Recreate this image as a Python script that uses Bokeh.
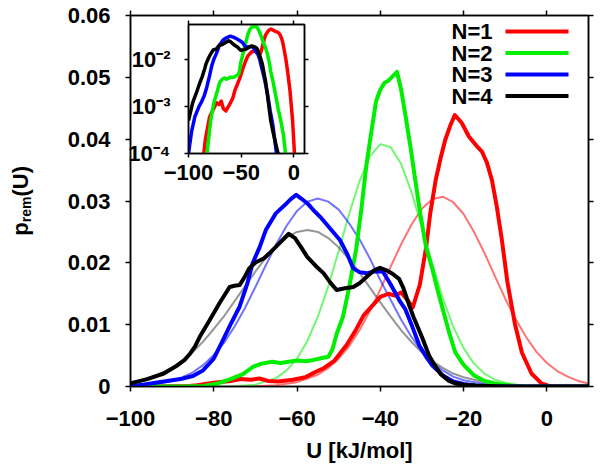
from bokeh.plotting import figure
from bokeh.models import LinearAxis, FixedTicker, Range1d, Label, Arrow, ColumnDataSource, Div
from bokeh.layouts import column
from bokeh.embed import file_html
from bokeh.resources import INLINE

# ---------------- data ----------------
x_ticks = [-100, -80, -60, -40, -20, 0]
y_ticks = [0, 0.01, 0.02, 0.03, 0.04, 0.05, 0.06]
y_tick_labels = ["0", "0.01", "0.02", "0.03", "0.04", "0.05", "0.06"]
inset_x_ticks = [-100, -50, 0]
inset_y_ticks = [1e-4, 1e-3, 1e-2]
inset_y_tick_labels = ["10\u207b\u2074", "10\u207b\u00b3", "10\u207b\u00b2"]

series_names = ["N=1", "N=2", "N=3", "N=4"]

# histograms (thick lines)
n1_x = [-100, -95, -90, -86, -84, -80, -76, -73.5, -71, -69, -67, -64.5, -61, -58, -56, -53.5, -51, -48, -46, -44,
        -42, -40, -38, -36.5, -35, -33.5, -32.2, -30.5, -29, -28, -26.7, -25.5, -24.4, -23.2, -22.1, -20.5, -18.7,
        -17, -15.6, -14.4, -13.2, -12, -10.8, -9.5, -7.7, -6, -3.7, -1.3, 0.5, 2, 5, 10]
n1_y = [0.00001, 0.00002, 0.00004, 0.00008, 0.0002, 0.0006, 0.0009, 0.0012, 0.0011, 0.0013, 0.0009, 0.0008, 0.0011,
        0.0015, 0.0022, 0.0030, 0.0042, 0.0068, 0.0090, 0.0115, 0.0130, 0.0145, 0.0150, 0.0147, 0.0152, 0.0140,
        0.0128, 0.0165, 0.0225, 0.0280, 0.0334, 0.0370, 0.0399, 0.0422, 0.0439, 0.0427, 0.0404, 0.0390, 0.0380,
        0.0362, 0.0334, 0.0290, 0.0237, 0.0170, 0.0102, 0.0055, 0.0021, 0.0005, 0.0001, 0.00003, 0.00001, 0.000005]

n2_x = [-100, -92, -86, -82.5, -79, -76, -73, -70.5, -68.5, -66, -64, -62, -60, -58, -56, -54, -52.5, -51.5, -50.5,
        -49, -47.5, -45.8, -44.5, -43.4, -42.2, -41, -40, -39, -38, -37, -36, -35, -33.9, -32.7, -31.5, -30.3, -29,
        -27.5, -26.2, -25, -23.5, -22, -20, -17.5, -15, -12.5, -10, -8, -6, -3, 0, 5, 10]
n2_y = [0.000005, 0.00001, 0.00003, 0.0001, 0.0005, 0.0012, 0.0020, 0.0032, 0.0037, 0.0040, 0.0038, 0.0040, 0.0042,
        0.0041, 0.0043, 0.0046, 0.0048, 0.0060, 0.0085, 0.0112, 0.0160, 0.0222, 0.0290, 0.0355, 0.0410, 0.0462,
        0.0480, 0.0491, 0.0495, 0.0502, 0.0509, 0.0480, 0.0436, 0.0385, 0.0329, 0.0275, 0.0225, 0.0190, 0.0155,
        0.0125, 0.0088, 0.0055, 0.0035, 0.0018, 0.0009, 0.0005, 0.00025, 0.0001, 0.00004, 0.00002, 0.00001,
        0.000005, 0.000005]

n3_x = [-100, -97, -94, -90, -88, -85, -82.6, -80, -77.8, -76, -73.8, -72, -70.7, -69, -67.5, -65.1, -63, -61.5,
        -60.2, -59, -57.5, -56, -54.4, -52, -49.7, -48, -46.5, -45, -43.3, -41.5, -39.4, -37.5, -35.4, -34, -32.5,
        -30.6, -29, -27.5, -25, -22.5, -20, -17, -15, -12, -8, 0, 10]
n3_y = [0.0001, 0.0003, 0.0006, 0.0010, 0.0012, 0.0017, 0.0026, 0.0045, 0.0075, 0.0100, 0.0129, 0.0165, 0.0199,
        0.0225, 0.0253, 0.0280, 0.0293, 0.0303, 0.0310, 0.0304, 0.0296, 0.0285, 0.0274, 0.0255, 0.0237, 0.0215,
        0.0191, 0.0185, 0.0183, 0.0186, 0.0186, 0.0165, 0.0139, 0.0125, 0.0100, 0.0066, 0.0048, 0.0034, 0.0018,
        0.0008, 0.0004, 0.00012, 0.00005, 0.00002, 0.00001, 0.000005, 0.000005]

n4_x = [-100, -96, -92, -89, -87, -85.7, -84.5, -83.4, -81, -78.6, -76.2, -75, -73.8, -72.5, -71.5, -69.9, -68,
        -66.7, -64.5, -62, -60.5, -59, -57.6, -55.5, -53.6, -52, -50.5, -48.5, -46.5, -45, -43.3, -41.5, -40.1,
        -38.5, -37, -35.5, -34.5, -33, -32, -30, -28.3, -27, -25.5, -23.5, -22, -20, -17, -14, -12, -8, 0, 10]
n4_y = [0.0005, 0.0012, 0.0021, 0.0033, 0.0043, 0.0053, 0.0065, 0.0080, 0.0107, 0.0135, 0.0161, 0.0163, 0.0164,
        0.0178, 0.0191, 0.0201, 0.0207, 0.0215, 0.0230, 0.0247, 0.0240, 0.0225, 0.0210, 0.0195, 0.0183, 0.0168,
        0.0156, 0.0159, 0.0161, 0.0167, 0.0177, 0.0188, 0.0192, 0.0188, 0.0182, 0.0174, 0.0160, 0.0130, 0.0112,
        0.0080, 0.0050, 0.0035, 0.0020, 0.0009, 0.0005, 0.0003, 0.00015, 0.00008, 0.00004, 0.00001, 0.000005,
        0.000005]

# fitted curves (thin lines)
f1_x = [-75, -70, -65, -60, -55, -52.5, -50, -47.5, -45, -42.5, -40, -37.5, -35, -32.5, -30, -27.5, -25, -22.5,
        -20, -17.5, -15, -12.5, -10, -7.5, -5, -2.5, 0, 2.5, 5, 7.5, 10]
f1_y = [0.00001, 0.00005, 0.0002, 0.0007, 0.0019, 0.0030, 0.0045, 0.0065, 0.0091, 0.0122, 0.0157, 0.0194, 0.0230,
        0.0262, 0.0288, 0.0303, 0.0307, 0.0298, 0.0279, 0.0250, 0.0216, 0.0179, 0.0142, 0.0109, 0.0080, 0.0056,
        0.0038, 0.0025, 0.0016, 0.0009, 0.0005]

f2_x = [-80, -75, -70, -65, -62.5, -60, -57.5, -55, -52.5, -50, -47.5, -45, -42.5, -40, -37.5, -35, -32.5, -30,
        -27.5, -25, -22.5, -20, -17.5, -15, -12.5, -10, -5, 0, 5, 10]
f2_y = [0.00001, 0.00006, 0.0003, 0.0014, 0.0026, 0.0045, 0.0074, 0.0113, 0.0162, 0.0219, 0.0279, 0.0332, 0.0372,
        0.0392, 0.0387, 0.0360, 0.0314, 0.0257, 0.0198, 0.0143, 0.0097, 0.0062, 0.0037, 0.0021, 0.0011, 0.0006,
        0.0001, 0.00002, 0.0, 0.0]

f3_x = [-100, -95, -90, -87.5, -85, -82.5, -80, -77.5, -75, -72.5, -70, -67.5, -65, -62.5, -60, -57.5, -55, -52.5,
        -50, -47.5, -45, -42.5, -40, -37.5, -35, -32.5, -30, -27.5, -25, -22.5, -20, -15, -10, -5, 0, 5, 10]
f3_y = [0.0001, 0.0003, 0.0009, 0.0015, 0.0023, 0.0035, 0.0051, 0.0071, 0.0097, 0.0127, 0.0161, 0.0196, 0.0230,
        0.0260, 0.0284, 0.0299, 0.0304, 0.0299, 0.0286, 0.0264, 0.0238, 0.0207, 0.0172, 0.0140, 0.0108, 0.0080,
        0.0057, 0.0039, 0.0026, 0.0016, 0.0010, 0.0004, 0.0001, 0.00003, 0.0, 0.0, 0.0]

f4_x = [-100, -97.5, -95, -92.5, -90, -87.5, -85, -82.5, -80, -77.5, -75, -72.5, -70, -67.5, -65, -62.5, -60,
        -57.5, -55, -52.5, -50, -47.5, -45, -42.5, -40, -37.5, -35, -32.5, -30, -27.5, -25, -22.5, -20, -15, -10,
        -5, 0, 5, 10]
f4_y = [0.0007, 0.0010, 0.0015, 0.0022, 0.0031, 0.0042, 0.0056, 0.0073, 0.0093, 0.0114, 0.0138, 0.0162, 0.0186,
        0.0208, 0.0227, 0.0241, 0.0250, 0.0253, 0.0250, 0.0240, 0.0225, 0.0206, 0.0184, 0.0160, 0.0136, 0.0113,
        0.0091, 0.0072, 0.0055, 0.0041, 0.0030, 0.0021, 0.0015, 0.0007, 0.0003, 0.0001, 0.0, 0.0, 0.0]

# ---------------- styling ----------------
FONT = "Liberation Sans"
FS = "22px"
colors = ["#ff0000", "#00ee00", "#0000ff", "#000000"]
fit_colors = ["#ff0000", "#00ee00", "#0000ff", "#404040"]


def style_axis(ax, labels=True, tick_out=5, standoff=10):
    ax.axis_line_color = "black"
    ax.axis_line_width = 1.5
    ax.major_tick_line_color = "black"
    ax.major_tick_line_width = 1.5
    ax.major_tick_out = tick_out
    ax.major_tick_in = 0
    ax.minor_tick_line_color = None
    ax.major_label_text_font = FONT
    ax.major_label_text_font_style = "bold"
    ax.major_label_text_color = "black"
    if labels:
        ax.major_label_text_font_size = FS
        ax.major_label_standoff = standoff
    else:
        ax.major_label_text_font_size = "0px"
        ax.major_label_standoff = 0


p = figure(width=600, height=465, x_range=Range1d(-100, 10), y_range=Range1d(0, 0.06),
           output_backend="svg", toolbar_location=None,
           min_border_left=125, min_border_right=12, min_border_top=15, min_border_bottom=79)
p.grid.visible = False
p.outline_line_color = "black"
p.outline_line_width = 1.5
p.background_fill_color = "white"

p.xaxis.ticker = FixedTicker(ticks=x_ticks)
p.yaxis.ticker = FixedTicker(ticks=y_ticks)
p.yaxis.major_label_overrides = {t: s for t, s in zip(y_ticks, y_tick_labels)}
style_axis(p.xaxis[0], standoff=19)
style_axis(p.yaxis[0], standoff=15)
p.xaxis.axis_label = "U [kJ/mol]"
p.xaxis.axis_label_text_font = FONT
p.xaxis.axis_label_text_font_size = FS
p.xaxis.axis_label_text_font_style = "bold"
p.xaxis.axis_label_text_color = "black"
p.xaxis.axis_label_standoff = 9

top_ax = LinearAxis(ticker=FixedTicker(ticks=x_ticks))
style_axis(top_ax, labels=False)
p.add_layout(top_ax, "above")
right_ax = LinearAxis(ticker=FixedTicker(ticks=y_ticks))
style_axis(right_ax, labels=False)
p.add_layout(right_ax, "right")

fits = [(f1_x, f1_y), (f2_x, f2_y), (f3_x, f3_y), (f4_x, f4_y)]
hists = [(n1_x, n1_y), (n2_x, n2_y), (n3_x, n3_y), (n4_x, n4_y)]

for (fx, fy), c in zip(fits, fit_colors):
    p.line(fx, fy, line_color=c, line_width=2, line_alpha=0.55)
for (hx, hy), c in zip(hists, colors):
    p.line(hx, hy, line_color=c, line_width=4, line_join="round")

# legend (text right-aligned, line sample to the right)
leg_y = [355, 333.5, 312, 290.5]
for name, c, yy in zip(series_names, colors, leg_y):
    p.add_layout(Label(x=362, y=yy, x_units="screen", y_units="screen", text=name, text_align="right",
                       text_baseline="middle", text_font=FONT, text_font_size=FS, text_font_style="bold",
                       text_color="black"))
    p.add_layout(Arrow(end=None, x_start=375, y_start=yy, x_end=438, y_end=yy, start_units="screen",
                       end_units="screen", line_color=c, line_width=4))

# y axis label p_rem(U): vertical text (reads upward)
ylabel = Div(
    text=('<div style="writing-mode:vertical-rl; transform:rotate(180deg); font-family:\'Liberation Sans\';'
          ' font-weight:bold; font-size:22px; color:black; line-height:1.1; white-space:nowrap;">'
          'p<sub style="font-size:14px;">rem</sub>(U)</div>'),
    margin=0,
    styles={"position": "absolute", "left": "9px", "top": "166px"})

# ---------------- inset (log scale) ----------------
ins = figure(width=258, height=176, x_range=Range1d(-100, 10), y_range=Range1d(1e-4, 0.055),
             y_axis_type="log", output_backend="svg", toolbar_location=None,
             min_border_left=130, min_border_right=6, min_border_top=5, min_border_bottom=42,
             styles={"position": "absolute", "left": "58px", "top": "19px"})
ins.grid.visible = False
ins.outline_line_color = "black"
ins.outline_line_width = 1.5
ins.border_fill_alpha = 0
ins.xaxis.ticker = FixedTicker(ticks=inset_x_ticks)
ins.yaxis.ticker = FixedTicker(ticks=inset_y_ticks)
ins.yaxis.major_label_overrides = {t: s for t, s in zip(inset_y_ticks, inset_y_tick_labels)}
style_axis(ins.xaxis[0], tick_out=4, standoff=7)
style_axis(ins.yaxis[0], tick_out=4, standoff=14)
itop = LinearAxis(ticker=FixedTicker(ticks=inset_x_ticks))
style_axis(itop, labels=False, tick_out=4)
ins.add_layout(itop, "above")
iright = LinearAxis(ticker=FixedTicker(ticks=inset_y_ticks))
style_axis(iright, labels=False, tick_out=4)
ins.add_layout(iright, "right")

for (hx, hy), c in zip(hists, colors):
    pts = [(a, b) for a, b in zip(hx, hy) if b > 0]
    src = ColumnDataSource(data=dict(x=[a for a, _ in pts], y=[b for _, b in pts]))
    ins.line("x", "y", source=src, line_color=c, line_width=3.5, line_join="round")

layout = column(p, ins, ylabel, styles={"position": "relative"})

open("out.html", "w").write(file_html(layout, INLINE))
